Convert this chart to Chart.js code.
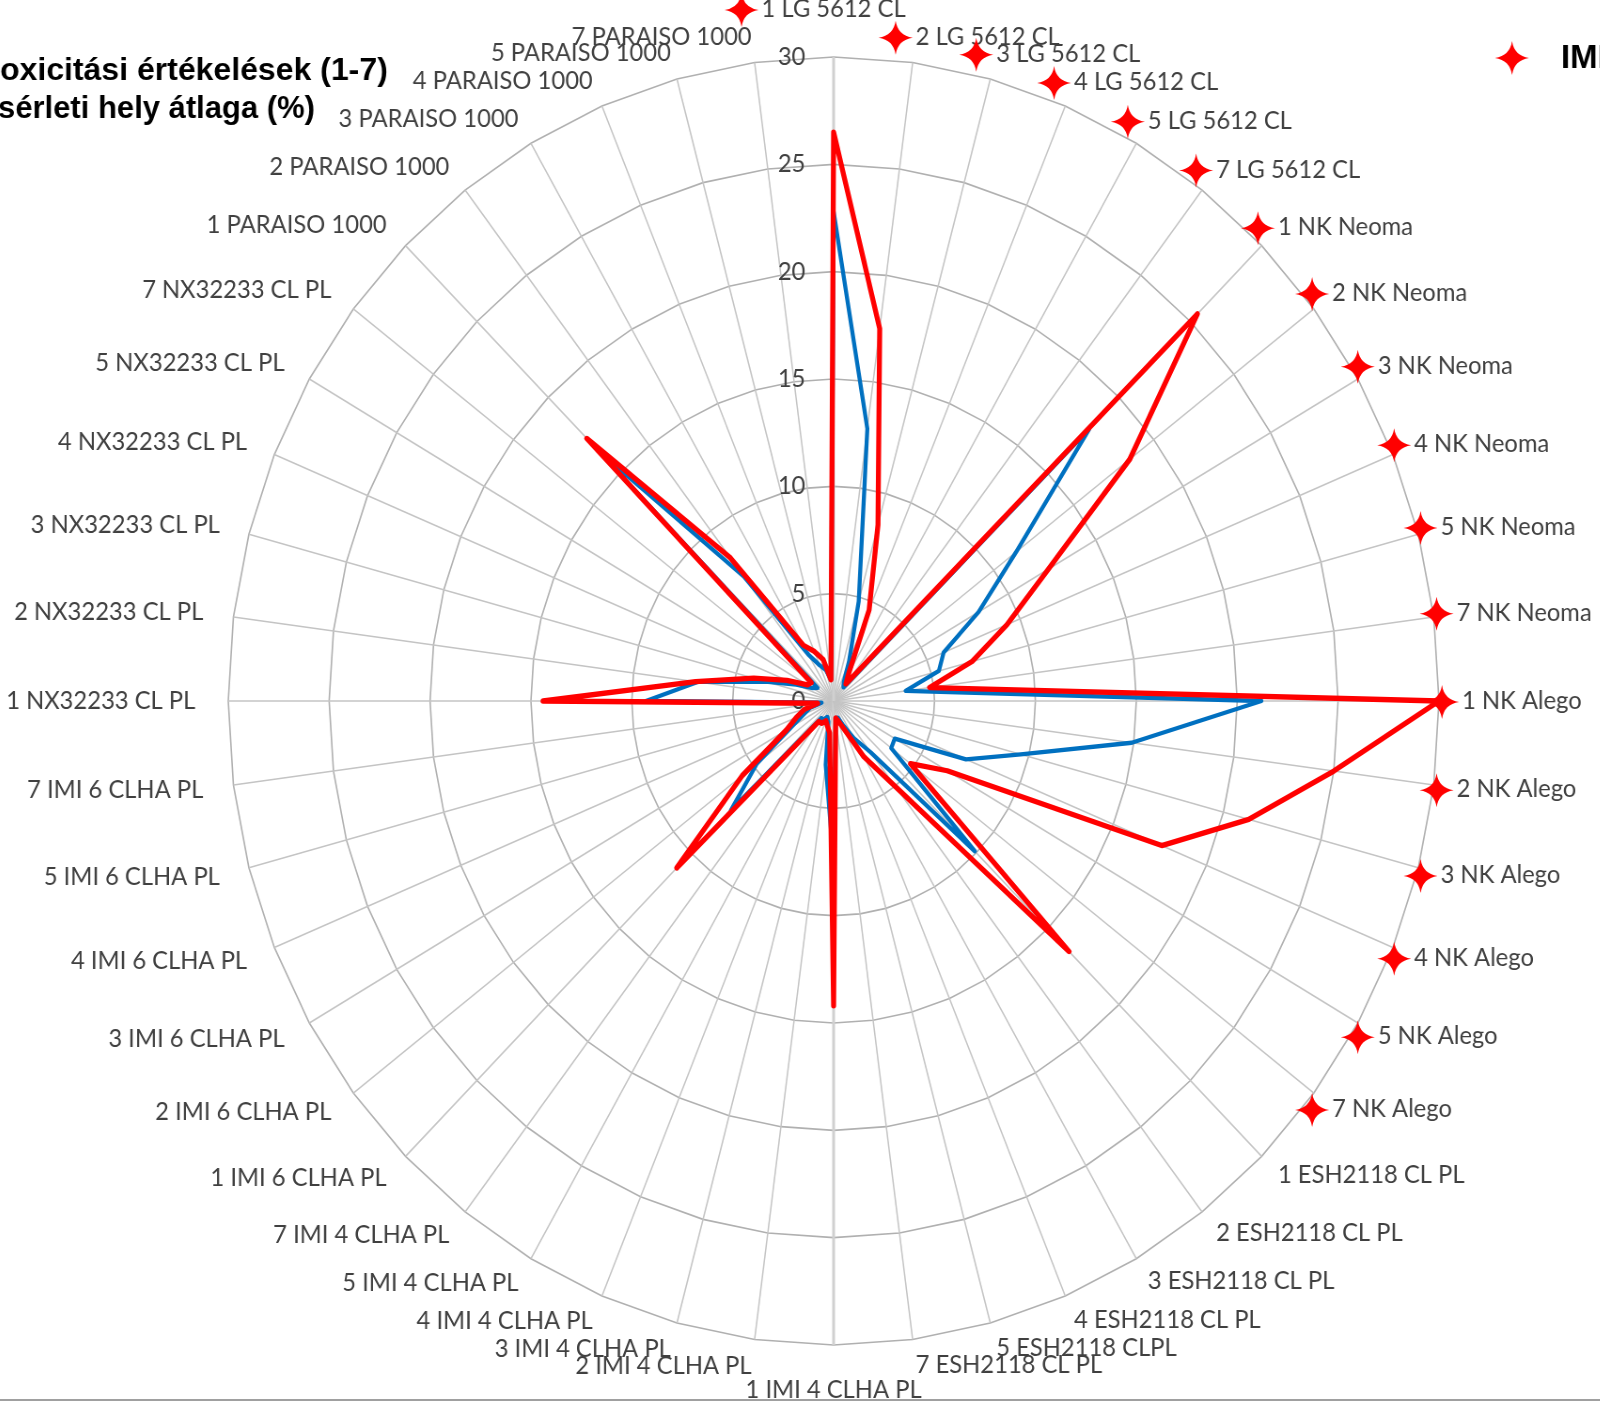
<!DOCTYPE html>
<html>
<head>
<meta charset="utf-8">
<script src="https://cdn.jsdelivr.net/npm/chart.js@4.4.1/dist/chart.umd.min.js"></script>
<style>
html,body{margin:0;padding:0;background:#ffffff;overflow:hidden;width:1600px;height:1403px;}
#wrap{position:absolute;left:-50px;top:-2px;width:1880px;height:1403px;transform:scaleX(0.94);transform-origin:0 0;}
canvas{display:block;}
</style>
</head>
<body>
<div id="wrap"><canvas id="c" width="1880" height="1403"></canvas></div>
<script>
// ---------- data ----------
const categories = [
  '1 LG 5612 CL','2 LG 5612 CL','3 LG 5612 CL','4 LG 5612 CL','5 LG 5612 CL','7 LG 5612 CL',
  '1 NK Neoma','2 NK Neoma','3 NK Neoma','4 NK Neoma','5 NK Neoma','7 NK Neoma',
  '1 NK Alego','2 NK Alego','3 NK Alego','4 NK Alego','5 NK Alego','7 NK Alego',
  '1 ESH2118 CL PL','2 ESH2118 CL PL','3 ESH2118 CL PL','4 ESH2118 CL PL','5 ESH2118 CLPL','7 ESH2118 CL PL',
  '1 IMI 4 CLHA PL','2 IMI 4 CLHA PL','3 IMI 4 CLHA PL','4 IMI 4 CLHA PL','5 IMI 4 CLHA PL','7 IMI 4 CLHA PL',
  '1 IMI 6 CLHA PL','2 IMI 6 CLHA PL','3 IMI 6 CLHA PL','4 IMI 6 CLHA PL','5 IMI 6 CLHA PL','7 IMI 6 CLHA PL',
  '1 NX32233 CL PL','2 NX32233 CL PL','3 NX32233 CL PL','4 NX32233 CL PL','5 NX32233 CL PL','7 NX32233 CL PL',
  '1 PARAISO 1000','2 PARAISO 1000','3 PARAISO 1000','4 PARAISO 1000','5 PARAISO 1000','7 PARAISO 1000'
];
const seriesRed = [
  26.5, 17.5, 8.5, 4.6, 1.5, 1.0,
  25.5, 18.5, 12.3, 9.3, 7.1, 4.8,
  30.0, 25.0, 21.3, 17.6, 6.5, 4.8,
  16.5, 5.0, 3.0, 1.5, 1.0, 0.8,
  14.2, 1.5, 1.2, 1.0, 1.2, 1.2,
  11.0, 5.7, 2.7, 2.0, 1.5, 0.8,
  14.4, 6.9, 4.1, 2.5, 1.5, 1.4,
  17.3, 8.4, 3.0, 2.5, 2.0, 1.0
];
const seriesBlue = [
  22.8, 12.8, 4.8, 2.0, 1.0, 0.8,
  17.9, 11.4, 8.3, 5.9, 5.4, 3.6,
  21.2, 14.9, 9.6, 7.1, 3.5, 3.6,
  9.9, 3.0, 2.0, 1.2, 0.8, 0.8,
  7.5, 3.0, 1.0, 0.8, 1.0, 1.0,
  7.2, 4.8, 2.4, 1.6, 1.2, 0.6,
  9.3, 6.8, 3.5, 2.0, 1.2, 1.0,
  16.5, 7.3, 2.5, 1.8, 1.5, 1.0
];
const tickValues = [0, 5, 10, 15, 20, 25, 30];
const imiMarked = [
  1,1,1,1,1,1, 1,1,1,1,1,1, 1,1,1,1,1,1,
  0,0,0,0,0,0, 0,0,0,0,0,0, 0,0,0,0,0,0,
  0,0,0,0,0,0, 0,0,0,0,0,0
];
const titleLines = ['oxicitási értékelések (1-7)', 'sérleti hely átlaga (%)'];
const legendText = 'IMI';

// ---------- geometry of the (horizontally squeezed) canvas ----------
const K = 0.94, OFFX = -50, OFFY = -2;
const toCX = sx => (sx - OFFX) / K;
const toCY = sy => sy - OFFY;
const LABEL_SIZE = 25.3;

function drawStar(ctx, cx, cy, r, c) {
  ctx.save();
  ctx.translate(cx, cy);
  ctx.scale(1 / K, 1);
  ctx.beginPath();
  const tips = [[0, -r], [r, 0], [0, r], [-r, 0]];
  const ctrl = [[c, -c], [c, c], [-c, c], [-c, -c]];
  ctx.moveTo(tips[0][0], tips[0][1]);
  for (let j = 0; j < 4; j++) {
    const n = tips[(j + 1) % 4];
    ctx.quadraticCurveTo(ctrl[j][0], ctrl[j][1], n[0], n[1]);
  }
  ctx.closePath();
  ctx.fillStyle = '#ff0000';
  ctx.fill();
  ctx.restore();
}

function screenText(ctx, text, sx, sy, font, color, align) {
  ctx.save();
  ctx.translate(toCX(sx), toCY(sy));
  ctx.scale(1 / K, 1);
  ctx.font = font;
  ctx.fillStyle = color;
  ctx.textAlign = align || 'left';
  ctx.textBaseline = 'middle';
  ctx.fillText(text, 0, 0);
  ctx.restore();
}

const decor = {
  id: 'decor',
  beforeDatasetsDraw(chart) {
    const s = chart.scales.r;
    const ctx = chart.ctx;
    ctx.save();
    ctx.font = LABEL_SIZE + 'px Lato';
    ctx.fillStyle = '#404040';
    ctx.textAlign = 'right';
    ctx.textBaseline = 'middle';
    tickValues.forEach(v => {
      ctx.fillText(String(v), s.xCenter - 30, s.yCenter - s.getDistanceFromCenterForValue(v));
    });
    ctx.restore();
  },
  afterDraw(chart) {
    const s = chart.scales.r;
    const ctx = chart.ctx;
    imiMarked.forEach((m, i) => {
      if (!m) return;
      const b = s.getPointLabelPosition(i);
      drawStar(ctx, b.left - 20 / K, (b.top + b.bottom) / 2 + 1, 17, 2.2);
    });
    screenText(ctx, titleLines[0], 0, 71, 'bold 32px "Liberation Sans", Arial, sans-serif', '#000000');
    screenText(ctx, titleLines[1], -2, 109, 'bold 31px "Liberation Sans", Arial, sans-serif', '#000000');
    drawStar(ctx, toCX(1512), toCY(58), 17, 2.2);
    screenText(ctx, legendText, 1561, 59, 'bold 33px "Liberation Sans", Arial, sans-serif', '#000000');
    ctx.save();
    ctx.fillStyle = '#a0a0a0';
    ctx.fillRect(0, toCY(1399), chart.width, 3);
    ctx.restore();
  }
};

function labelAngle(i) { return (i * 360 / categories.length) % 360; }

new Chart(document.getElementById('c'), {
  type: 'radar',
  data: {
    labels: categories,
    datasets: [
      {
        label: 'kísérleti hely átlaga (%)',
        data: seriesRed,
        borderColor: '#ff0000',
        backgroundColor: 'rgba(0,0,0,0)',
        borderWidth: 5.3,
        fill: false,
        pointRadius: 0,
        pointHoverRadius: 0,
        tension: 0,
        borderJoinStyle: 'round'
      },
      {
        label: 'fitotoxicitási értékelések (1-7)',
        data: seriesBlue,
        borderColor: '#0070c0',
        backgroundColor: 'rgba(0,0,0,0)',
        borderWidth: 4.3,
        fill: false,
        pointRadius: 0,
        pointHoverRadius: 0,
        tension: 0,
        borderJoinStyle: 'round'
      }
    ]
  },
  options: {
    responsive: false,
    maintainAspectRatio: false,
    devicePixelRatio: 1,
    animation: false,
    layout: { padding: 0 },
    plugins: {
      legend: { display: false },
      title: { display: false },
      tooltip: { enabled: false }
    },
    scales: {
      r: {
        min: 0,
        max: 30,
        startAngle: 0,
        ticks: { stepSize: 5, display: false },
        grid: { color: '#b0b0b0', lineWidth: 1.6 },
        angleLines: {
          color: c => (c.index % 24 === 0 ? '#d0d0d0' : '#c4c4c4'),
          lineWidth: c => (c.index % 24 === 0 ? 3 : 1.5)
        },
        pointLabels: {
          display: true,
          color: '#404040',
          font: c => {
            const a = labelAngle(c.index);
            const h = (a === 0 || a === 180) ? 18 : Math.max(2, 3 * Math.abs(Math.cos(a * Math.PI / 180)));
            return { family: 'Lato', size: LABEL_SIZE, lineHeight: h / LABEL_SIZE };
          },
          padding: c => {
            const a = labelAngle(c.index);
            if (a === 0) return 39;
            if (a === 180) return 36;
            if (a === 90) return 24.5;
            if (a === 270) return 35;
            if (a < 180) return 24.5;
            const s = Math.sin(a * Math.PI / 180);
            return 24.5 + 8 * s * s;
          }
        }
      }
    }
  },
  plugins: [decor]
});
</script>
</body>
</html>
